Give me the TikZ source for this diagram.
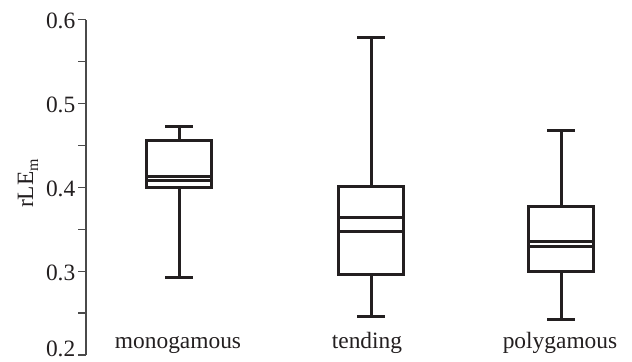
\documentclass[tikz,border=0pt]{standalone}
\usepackage{fontspec}
\setmainfont{Liberation Serif}
\usetikzlibrary{positioning}
\definecolor{inkgray}{HTML}{231F20}
\definecolor{axisgray}{HTML}{4A4A4A}

\begin{document}
\begin{tikzpicture}[x=1bp,y=838bp]
\tikzset{boxline/.style = {line width=3bp, draw=inkgray, line cap=rect}}
\tikzset{axisline/.style = {line width=1.2bp, draw=axisgray}}
\tikzset{ticklabel/.style = {anchor=base east, inner sep=0pt, yshift=-9bp, text=inkgray,
    font=\fontsize{23.5}{23.5}\selectfont}}
\tikzset{catlabel/.style = {anchor=base, inner sep=0pt, text=inkgray,
    font=\fontsize{23.5}{23.5}\selectfont}}
\path[use as bounding box] (0bp,160.6bp) rectangle (632bp,522.6bp);
% axis
\draw[axisline] (86,0.2) -- (86,0.6);
\foreach \v in {0.2,0.25,...,0.61}
  \draw[axisline] (78,\v) -- (86,\v);
\foreach \v in {0.3,0.4,0.5,0.6}
  \node[ticklabel] (tick\v) at (75.5,\v) {\v};
\node[ticklabel, yshift=8bp] (tick0.2) at (75.5,0.2) {0.2};
\node[rotate=90, anchor=base, inner sep=0pt, text=inkgray,
  font=\fontsize{23.5}{23.5}\selectfont] (ylabel) at (33,0.2+178.5/838-7/838)
  {rLE\raisebox{-0.22em}{\fontsize{16}{16}\selectfont m}};
% boxes: centre / low / q1 / median a / median b / q3 / high
\foreach \x/\lo/\qa/\ma/\mb/\qb/\hi in
  {179/0.2925/0.400/0.408/0.413/0.4555/0.4725,
   371/0.246/0.2965/0.347/0.364/0.4015/0.579,
   561/0.2425/0.2995/0.330/0.335/0.377/0.4677}{
  \draw[boxline] ({\x-32.5},\qa) rectangle ({\x+32.5},\qb);
  \draw[boxline] ({\x-32.5},\ma) -- ({\x+32.5},\ma);
  \draw[boxline] ({\x-32.5},\mb) -- ({\x+32.5},\mb);
  \draw[boxline] (\x,\qb) -- (\x,\hi);
  \draw[boxline] (\x,\qa) -- (\x,\lo);
  \draw[boxline] ({\x-12.5},\hi) -- ({\x+12.5},\hi);
  \draw[boxline] ({\x-12.5},\lo) -- ({\x+12.5},\lo);
}
% group names
\node[catlabel] (mono) at (178,0.2072) {monogamous};
\node[catlabel] (tend) at (367,0.2072) {tending};
\node[catlabel] (poly) at (560,0.2072) {polygamous};
\end{tikzpicture}
\end{document}
